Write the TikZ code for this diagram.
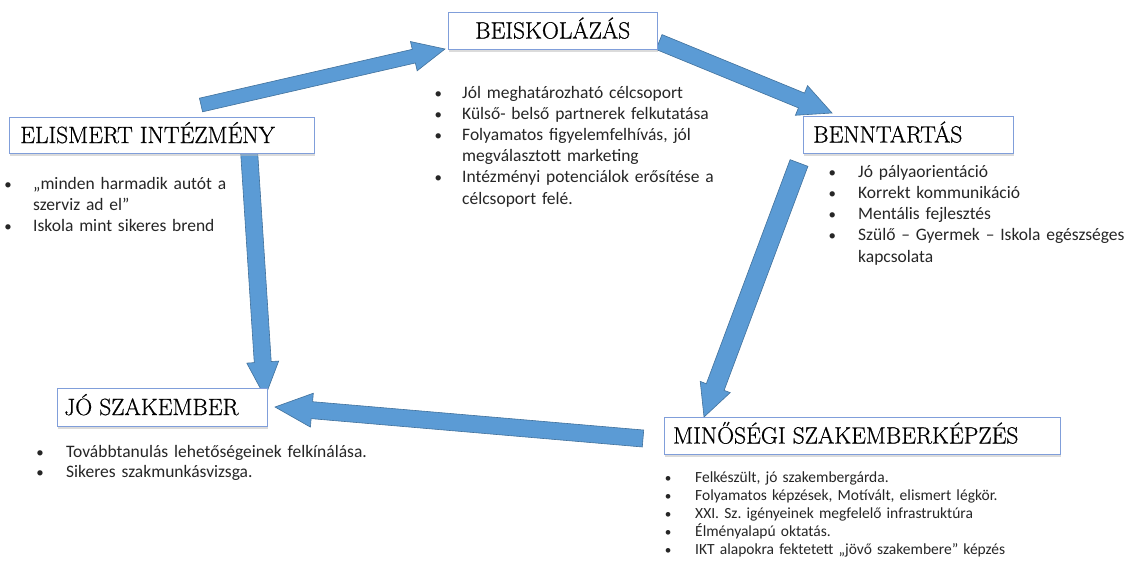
\documentclass[tikz,border=0pt]{standalone}
\usepackage{fontspec}
\newfontfamily\bodyfont{Carlito}
\newfontfamily\titlefont[FakeBold=0.7]{Latin Modern Roman}
\usetikzlibrary{calc,shadows}
\definecolor{arrowfill}{RGB}{91,155,213}
\definecolor{arrowline}{RGB}{65,113,156}
\definecolor{boxline}{RGB}{128,158,218}
\definecolor{bodytext}{RGB}{38,38,38}
% tail, tip, half shaft width, half head width, head length
\newcommand\blockarrow[5]{%
  \coordinate (ba-b) at ($(#2)!#5!(#1)$);
  \filldraw[blockarr] ($(#1)!#3!90:(#2)$) -- ($(ba-b)!#3!90:(#2)$) -- ($(ba-b)!#4!90:(#2)$)
    -- (#2) -- ($(ba-b)!#4!-90:(#2)$) -- ($(ba-b)!#3!-90:(#2)$) -- ($(#1)!#3!-90:(#2)$) -- cycle;}
\newcommand\itm[2]{\makebox[0pt]{\scalebox{0.85}{\textbullet}}\hspace*{#1}\mbox{#2}}
\newcommand\cnt[2]{\hspace*{#1}\mbox{#2}}
\tikzset{
  titlebox/.style={draw=boxline, line width=1pt, fill=white, inner sep=0pt,
    drop shadow={shadow xshift=1pt, shadow yshift=-3pt, fill=black!28}},
  titletext/.style={anchor=west, inner sep=0pt, font=\titlefont\fontsize{23.5}{25}\selectfont,
    text height=16pt, text depth=0pt},
  listtext/.style={anchor=base west, inner sep=0pt, align=left, text=bodytext,
    font=\bodyfont\frenchspacing\fontsize{17.5}{21.2}\selectfont},
  blockarr/.style={fill=arrowfill, draw=arrowline, line width=0.6pt, line join=miter}
}
\begin{document}
\begin{tikzpicture}[x=1pt,y=-1pt]
\useasboundingbox[fill=white] (0,0) rectangle (1124,570);
% arrow end points
\coordinate (a1t) at (201,105);  \coordinate (a1p) at (445,49);
\coordinate (a2t) at (659,42);   \coordinate (a2p) at (832,113);
\coordinate (a3t) at (799,163);  \coordinate (a3p) at (704,417);
\coordinate (a4t) at (249,150);  \coordinate (a4p) at (265,397);
\coordinate (a5t) at (643,438.5);\coordinate (a5p) at (275,407);
\blockarrow{a1t}{a1p}{7pt}{15pt}{32pt}
\blockarrow{a2t}{a2p}{8pt}{16pt}{33pt}
\blockarrow{a3t}{a3p}{9.5pt}{16pt}{32pt}
\blockarrow{a4t}{a4p}{8.5pt}{16pt}{35pt}
\blockarrow{a5t}{a5p}{8.5pt}{17pt}{37pt}
% boxes
\node[titlebox, minimum width=209pt, minimum height=37pt] (beis) at (552.5,30.5) {};
\node[titletext] (beist) at (475,30.5) {BEISKOLÁZÁS};
\node[titlebox, minimum width=305pt, minimum height=36pt] (elis) at (161.5,135) {};
\node[titletext] (elist) at (20,135) {ELISMERT INTÉZMÉNY};
\node[titlebox, minimum width=210pt, minimum height=37pt] (benn) at (908,134.5) {};
\node[titletext] (bennt) at (813,134.5) {BENNTARTÁS};
\node[titlebox, minimum width=210pt, minimum height=38pt] (jo) at (162,407) {};
\node[titletext] (jot) at (64,407) {JÓ SZAKEMBER};
\node[titlebox, minimum width=396pt, minimum height=37pt] (min) at (862,435.5) {};
\node[titletext] (mint) at (673,435.5) {MINŐSÉGI SZAKEMBERKÉPZÉS};
% lists
\node[listtext, text width=300pt] (beisl) at (438,98) {%
  \itm{24pt}{Jól meghatározható célcsoport}\\
  \itm{24pt}{Külső- belső partnerek felkutatása}\\
  \itm{24pt}{Folyamatos figyelemfelhívás, jól}\\
  \cnt{24pt}{megválasztott marketing}\\
  \itm{24pt}{Intézményi potenciálok erősítése a}\\
  \cnt{24pt}{célcsoport felé.}};
\node[listtext, text width=300pt] (elisl) at (8,189) {%
  \itm{25pt}{„minden harmadik autót a}\\
  \cnt{25pt}{szerviz ad el”}\\
  \itm{25pt}{Iskola mint sikeres brend}};
\node[listtext, text width=285pt, font=\bodyfont\frenchspacing\fontsize{17.5}{21.3}\selectfont] (bennl) at (832,177) {%
  \itm{26pt}{Jó pályaorientáció}\\
  \itm{26pt}{Korrekt kommunikáció}\\
  \itm{26pt}{Mentális fejlesztés}\\
  \itm{26pt}{Szülő – Gyermek – Iskola egészséges}\\
  \cnt{26pt}{kapcsolata}};
\node[listtext, text width=350pt, font=\bodyfont\frenchspacing\fontsize{17.5}{20}\selectfont] (jol) at (40,457) {%
  \itm{26pt}{Továbbtanulás lehetőségeinek felkínálása.}\\
  \itm{26pt}{Sikeres szakmunkásvizsga.}};
\node[listtext, text width=440pt, font=\bodyfont\frenchspacing\fontsize{15.5}{18}\selectfont] (minl) at (668,482.5) {%
  \itm{27pt}{Felkészült, jó szakembergárda.}\\
  \itm{27pt}{Folyamatos képzések, Motívált, elismert légkör.}\\
  \itm{27pt}{XXI. Sz. igényeinek megfelelő infrastruktúra}\\
  \itm{27pt}{Élményalapú oktatás.}\\
  \itm{27pt}{IKT alapokra fektetett „jövő szakembere” képzés}};
\end{tikzpicture}
\end{document}
